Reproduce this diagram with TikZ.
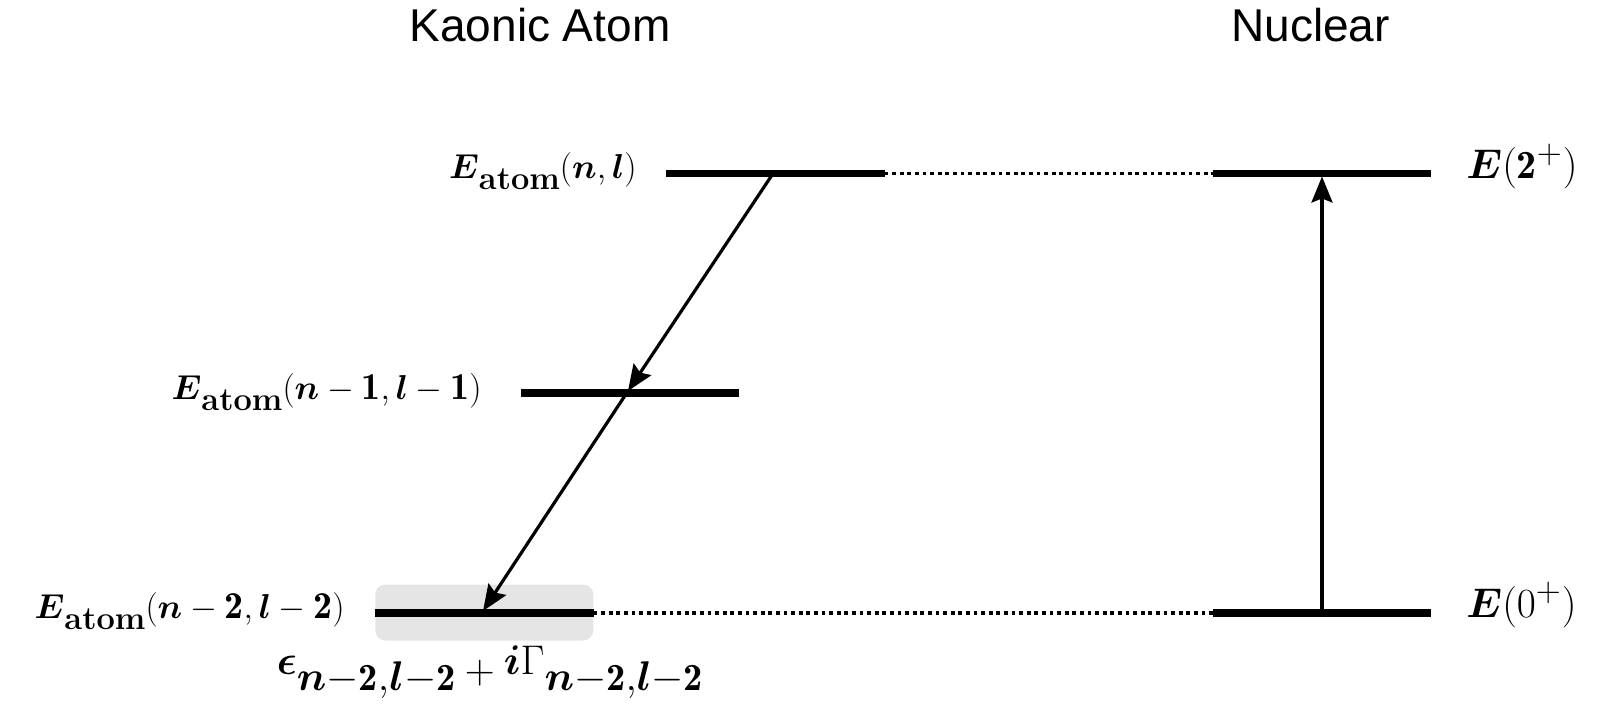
\documentclass[tikz,border=0pt]{standalone}
\usepackage{fontspec}
\setsansfont{Liberation Sans}
\usepackage{amsmath}
\usepackage{bm}
\usetikzlibrary{arrows.meta}
\newcommand{\EatomLabel}{\bm{E}\raisebox{-5.5pt}{\fontsize{16.3}{20}\selectfont\bfseries atom}}
\newcommand{\SubNL}{\raisebox{-3.5pt}{$\bm{n}{-}\mathbf{2}{,}\bm{l}{-}\mathbf{2}$}}
\newcommand{\PlusSup}{^{\text{\fontsize{16}{16}\selectfont$+$}}}
\begin{document}
\begin{tikzpicture}[x=0.5pt,y=-0.5pt,
  level/.style={line width=3.8pt},
  dotline/.style={line width=1.8pt, dash pattern=on 1.9pt off 1.9pt},
  trans/.style={line width=1.6pt, -{Stealth[length=13pt,width=10.5pt,inset=2pt]}},
  head/.style={font=\sffamily\fontsize{23}{27}\selectfont, inner sep=0pt},
  lab/.style={font=\fontsize{19}{23}\selectfont, inner sep=0pt},
  nlab/.style={font=\fontsize{20}{24}\selectfont, inner sep=0pt},
  sublab/.style={font=\fontsize{19.2}{23}\selectfont, inner sep=0pt},
  band/.style={fill=black!10, rounded corners=5pt, inner sep=0pt}]
\useasboundingbox (0,0) rectangle (1600,711);
% headings
\node[head] (hk) at (540,25.5) {Kaonic Atom};
\node[head] (hn) at (1310.5,25.5) {Nuclear};
% shaded band
\node[band, minimum width=109pt, minimum height=28pt] (bandnode) at (484.25,612.5) {};
% level endpoints
\coordinate (a1L) at (666,173.5);  \coordinate (a1R) at (884.5,173.5);
\coordinate (a2L) at (521,393);    \coordinate (a2R) at (738.5,393);
\coordinate (a3L) at (375,613);    \coordinate (a3R) at (593.5,613);
\coordinate (n2L) at (1212.5,173.5); \coordinate (n2R) at (1431,173.5);
\coordinate (n0L) at (1212.5,613);   \coordinate (n0R) at (1431,613);
% dotted links
\draw[dotline] (a1R) -- (n2L);
\draw[dotline] (a3R) -- (n0L);
% levels
\draw[level] (a1L) -- (a1R);
\draw[level] (a2L) -- (a2R);
\draw[level] (a3L) -- (a3R);
\draw[level] (n2L) -- (n2R);
\draw[level] (n0L) -- (n0R);
% transitions
\coordinate (p1) at (773,173.5);
\coordinate (p2) at (628,391);
\coordinate (p3) at (483,611);
\draw[trans] (p1) -- (p2);
\draw[trans] (p2) -- (p3);
\coordinate (q0) at (1322,613);
\coordinate (q2) at (1322,176.5);
\draw[trans] (q0) -- (q2);
% labels
\node[lab, anchor=base east] (l1) at (637,179) {$\EatomLabel(\bm{n},\bm{l})$};
\node[lab, anchor=base east] (l2) at (482,399) {$\EatomLabel(\bm{n}-\mathbf{1},\bm{l}-\mathbf{1})$};
\node[lab, anchor=base east] (l3) at (345,618) {$\EatomLabel(\bm{n}-\mathbf{2},\bm{l}-\mathbf{2})$};
\node[nlab, anchor=base west] (l4) at (1466,179) {$\bm{E}(\mathbf{2}\PlusSup)$};
\node[nlab, anchor=base west] (l5) at (1466,617) {$\bm{E}(0\PlusSup)$};
\node[sublab, anchor=base] (l6) at (490,683.5) {$\raisebox{4.5pt}{$\bm{\epsilon}$}\SubNL+\raisebox{4.5pt}{$\bm{i}\Gamma$}\SubNL$};
\end{tikzpicture}
\end{document}
